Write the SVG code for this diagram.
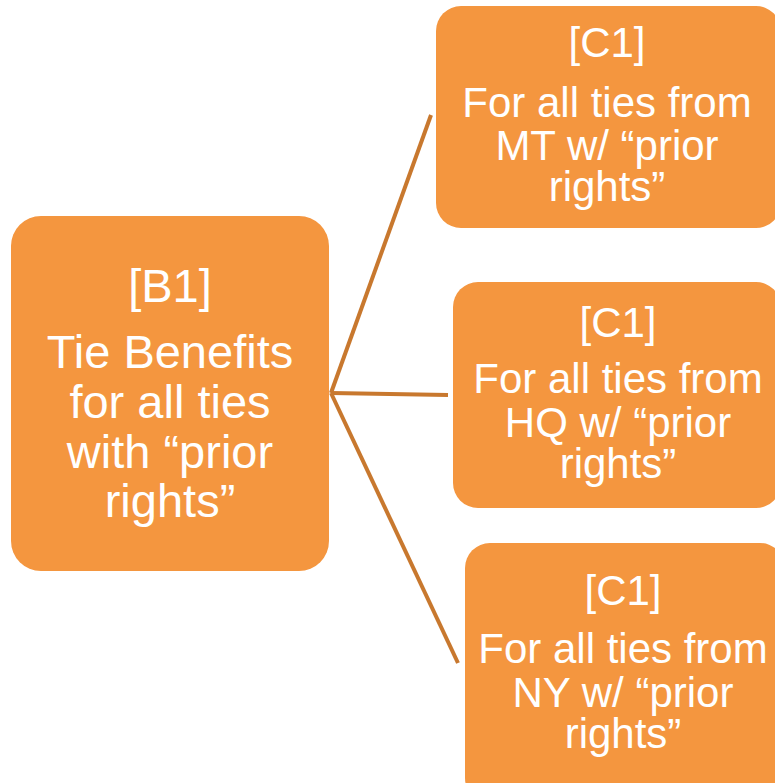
<svg xmlns="http://www.w3.org/2000/svg" width="775" height="783" viewBox="0 0 775 783">
<style>
.box{fill:#F4963F;}
.t{font-family:"Liberation Sans",Arial,sans-serif;fill:#FFFFFF;text-anchor:middle;}
.b{font-size:47px;}
.c{font-size:42px;}
.conn{stroke:#C8782E;stroke-width:4;fill:none;}
</style>
<rect width="775" height="783" fill="#FFFFFF"/>
<g id="connectors">
<line class="conn" x1="331" y1="393" x2="431" y2="115"/>
<line class="conn" x1="331" y1="393" x2="448" y2="395"/>
<line class="conn" x1="331" y1="393" x2="458" y2="663"/>
</g>
<g id="B1">
<rect class="box" x="11" y="216" width="318" height="355" rx="30" ry="30"/>
<text class="t b" x="170" y="302">[B1]</text>
<text class="t b" x="170" y="368">Tie Benefits</text>
<text class="t b" x="170" y="418">for all ties</text>
<text class="t b" x="170" y="468">with “prior</text>
<text class="t b" x="170" y="517">rights”</text>
</g>
<g id="C1-MT">
<rect class="box" x="436" y="6" width="345" height="222" rx="25" ry="25"/>
<text class="t c" x="607" y="57">[C1]</text>
<text class="t c" x="607" y="117">For all ties from</text>
<text class="t c" x="607" y="160">MT w/ “prior</text>
<text class="t c" x="607" y="201">rights”</text>
</g>
<g id="C1-HQ">
<rect class="box" x="453" y="282" width="328" height="226" rx="25" ry="25"/>
<text class="t c" x="618" y="337">[C1]</text>
<text class="t c" x="618" y="393">For all ties from</text>
<text class="t c" x="618" y="437">HQ w/ “prior</text>
<text class="t c" x="618" y="478">rights”</text>
</g>
<g id="C1-NY">
<rect class="box" x="465" y="543" width="320" height="260" rx="25" ry="25"/>
<text class="t c" x="623" y="605">[C1]</text>
<text class="t c" x="623" y="663">For all ties from</text>
<text class="t c" x="623" y="707">NY w/ “prior</text>
<text class="t c" x="623" y="748">rights”</text>
</g>
</svg>
